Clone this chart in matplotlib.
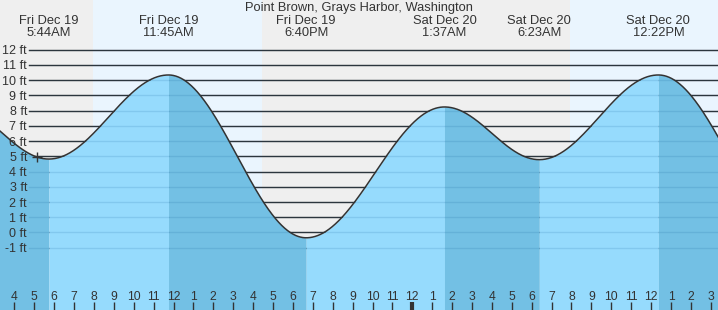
import numpy as np
import matplotlib
matplotlib.use('Agg')
import matplotlib.pyplot as plt
import matplotlib.transforms as mtransforms

plt.rcParams['font.family'] = ['Liberation Sans', 'DejaVu Sans']

title = 'Point Brown, Grays Harbor, Washington'

# tide extremes, hours counted from Fri Dec 19 00:00 (first and last lie off the chart)
tide_hours = [1.0, 5.733, 11.75, 18.667, 25.617, 30.383, 36.367, 43.4]
tide_ft = [8.3, 4.82, 10.34, -0.35, 8.24, 4.78, 10.34, -0.2]
tide_labels = ['', 'Fri Dec 19\n5:44AM', 'Fri Dec 19\n11:45AM', 'Fri Dec 19\n6:40PM',
               'Sat Dec 20\n1:37AM', 'Sat Dec 20\n6:23AM', 'Sat Dec 20\n12:22PM', '']

# daylight (sunrise, sunset) in the same hours
day_spans = [(7.94, 16.45), (31.92, 41.0)]

now_hour, now_ft = 5.15, 4.97

ft_ticks = list(range(-1, 13))
hour_ticks = list(range(4, 40))
midnight = 24

x_lim = (3.281, 39.362)
y_lim = (-5.091, 15.263)

night_bg = '#efefef'
day_bg = '#eaf5fe'
water_rise = '#96dbfd'
water_fall = '#73c0e4'
ink = '#333333'


def tide_at(t):
    # cosine shape between consecutive extremes
    t = np.asarray(t, dtype=float)
    out = np.zeros_like(t)
    for i in range(len(tide_hours) - 1):
        t0, t1 = tide_hours[i], tide_hours[i + 1]
        h0, h1 = tide_ft[i], tide_ft[i + 1]
        m = (t >= t0) & (t <= t1)
        f = (t[m] - t0) / (t1 - t0)
        out[m] = h0 + (h1 - h0) * (1 - np.cos(np.pi * f)) / 2
    return out


fig = plt.figure(figsize=(7.18, 3.10), dpi=100)
ax = fig.add_axes([0, 0, 1, 1])
ax.set_xlim(*x_lim)
ax.set_ylim(*y_lim)
ax.axis('off')

# sky: night grey with daylight bands
ax.axvspan(x_lim[0], x_lim[1], color=night_bg, zorder=0)
for a, b in day_spans:
    ax.axvspan(a, b, color=day_bg, zorder=0, lw=0)

# black level lines above the water
for v in ft_ticks:
    ax.axhline(v, xmin=29 / 718, xmax=1, color=ink, lw=1, zorder=1)

# water, darker while falling
for i in range(len(tide_hours) - 1):
    t0, t1 = tide_hours[i], tide_hours[i + 1]
    tt = np.linspace(t0, t1, 200)
    col = water_fall if tide_ft[i + 1] < tide_ft[i] else water_rise
    ax.fill_between(tt, tide_at(tt), y_lim[0], color=col, lw=0, zorder=2)

# faint level lines under water
for v in ft_ticks:
    ax.axhline(v, xmin=29 / 718, xmax=1, color=(0.0, 0.3, 0.55), alpha=0.13, lw=1, zorder=3)

tt = np.linspace(tide_hours[0], tide_hours[-1], 2000)
ax.plot(tt, tide_at(tt), color=ink, lw=1.1, zorder=4)
ax.plot([now_hour], [now_ft], marker='+', color=ink, ms=6.5, mew=1, zorder=5)

# y labels
ylab_tr = mtransforms.blended_transform_factory(ax.transAxes, ax.transData)
ylab_tr = mtransforms.offset_copy(ylab_tr, fig=fig, x=0, y=-4.5, units='dots')
for v in ft_ticks:
    ax.text(27 / 718, v, '%d ft' % v, transform=ylab_tr, ha='right', va='baseline',
            fontsize=9, color=ink, zorder=6)

# hour ticks along the bottom
xb = mtransforms.blended_transform_factory(ax.transData, ax.transAxes)
for h in hour_ticks:
    lw = 3 if h == midnight else 1
    ax.plot([h, h], [0, 8 / 310], color=ink, lw=lw, transform=xb, zorder=6,
            solid_capstyle='butt')
    lab = h % 12
    if lab == 0:
        lab = 12
    ax.text(h, 10 / 310, str(lab), transform=xb, ha='center', va='baseline',
            fontsize=8.7, color=ink, zorder=6)

# header: extreme times
for h, lab in zip(tide_hours, tide_labels):
    if not lab:
        continue
    l1, l2 = lab.split('\n')
    ax.text(h, 1 - 24 / 310, l1, transform=xb, ha='center', va='baseline',
            fontsize=9.3, color=ink, zorder=6)
    ax.text(h, 1 - 36 / 310, l2, transform=xb, ha='center', va='baseline',
            fontsize=9.3, color=ink, zorder=6)

ax.text(0.5, 1 - 11 / 310, title, transform=ax.transAxes, ha='center', va='baseline',
        fontsize=9.3, color=ink, zorder=6)

fig.savefig('out.png', dpi=100)
